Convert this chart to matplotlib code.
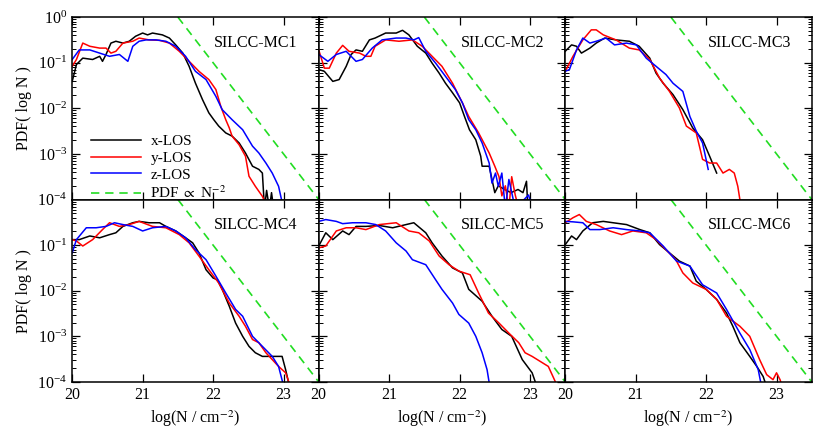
import numpy as np
import matplotlib
matplotlib.use("Agg")
import matplotlib.pyplot as plt
from matplotlib.ticker import LogLocator, NullFormatter, FixedLocator

plt.rcParams['font.family'] = 'serif'
plt.rcParams['font.serif'] = ['Liberation Serif', 'DejaVu Serif']
plt.rcParams['mathtext.fontset'] = 'stix'

# column density log10(N / cm^-2) and log10 PDF
# panel 1
mc1_x_lx = [20.0, 20.06, 20.15, 20.29, 20.39, 20.43, 20.48, 20.55, 20.62, 20.72, 20.81, 20.9, 21.0, 21.07,
            21.14, 21.28, 21.38, 21.47, 21.57, 21.66, 21.75, 21.85, 21.94, 22.01, 22.08, 22.18, 22.27,
            22.37, 22.46, 22.56, 22.65, 22.7, 22.73, 22.76, 22.8, 22.83, 22.86]
mc1_x_lp = [-1.41, -1.04, -0.9, -0.93, -0.86, -0.97, -0.82, -0.57, -0.53, -0.57, -0.53, -0.42, -0.35, -0.39,
            -0.35, -0.39, -0.46, -0.61, -0.79, -1.08, -1.45, -1.81, -2.1, -2.25, -2.39, -2.54, -2.61,
            -2.76, -2.98, -3.27, -3.34, -3.42, -4.2, -3.8, -4.2, -3.85, -4.2]
mc1_y_lx = [20.0, 20.06, 20.15, 20.25, 20.39, 20.48, 20.55, 20.62, 20.72, 20.86, 20.95, 21.09, 21.24,
            21.38, 21.52, 21.66, 21.8, 21.94, 22.04, 22.11, 22.18, 22.23, 22.27, 22.37, 22.46, 22.51,
            22.6, 22.7, 22.78]
mc1_y_lp = [-1.08, -0.93, -0.57, -0.64, -0.68, -0.68, -0.79, -0.75, -0.57, -0.53, -0.46, -0.5, -0.51,
            -0.57, -0.75, -0.97, -1.19, -1.37, -1.59, -1.96, -2.25, -2.43, -2.61, -2.8, -3.05, -3.49,
            -3.71, -3.93, -4.2]
mc1_z_lx = [20.0, 20.1, 20.25, 20.39, 20.53, 20.67, 20.79, 20.86, 20.95, 21.05, 21.19, 21.33, 21.47,
            21.61, 21.75, 21.9, 22.04, 22.13, 22.27, 22.42, 22.56, 22.65, 22.75, 22.84, 22.93, 23.0]
mc1_z_lp = [-0.93, -0.72, -0.72, -0.79, -0.86, -0.82, -0.97, -0.64, -0.53, -0.5, -0.5, -0.53, -0.64,
            -0.86, -1.19, -1.37, -1.74, -2.03, -2.25, -2.47, -2.83, -2.98, -3.2, -3.42, -3.71, -4.2]

# panel 2
mc2_x_lx = [20.0, 20.08, 20.2, 20.29, 20.39, 20.46, 20.53, 20.62, 20.72, 20.8, 20.95, 21.1, 21.19, 21.28,
            21.4, 21.52, 21.61, 21.71, 21.8, 21.9, 22.0, 22.07, 22.14, 22.23, 22.3, 22.32, 22.42, 22.5,
            22.55, 22.64, 22.73, 22.83, 22.9, 22.95, 22.97]
mc2_x_lp = [-1.15, -1.19, -1.41, -1.37, -1.08, -0.82, -0.72, -0.75, -0.5, -0.46, -0.35, -0.35, -0.29, -0.39,
            -0.64, -0.79, -1.01, -1.23, -1.45, -1.66, -1.88, -2.18, -2.47, -2.69, -3.05, -3.27, -3.27, -3.85,
            -3.7, -3.78, -3.85, -3.78, -3.85, -3.6, -4.2]
mc2_y_lx = [20.0, 20.08, 20.15, 20.25, 20.34, 20.43, 20.58, 20.67, 20.74, 20.8, 20.95, 21.14, 21.33,
            21.47, 21.61, 21.75, 21.9, 22.04, 22.13, 22.27, 22.42, 22.5, 22.56, 22.6, 22.65, 22.7, 22.74,
            22.79, 22.84]
mc2_y_lp = [-0.72, -1.12, -1.12, -0.79, -0.62, -0.75, -0.79, -0.86, -0.86, -0.64, -0.5, -0.53, -0.5,
            -0.64, -0.86, -1.08, -1.45, -1.88, -2.18, -2.54, -2.98, -3.27, -3.5, -3.92, -3.7, -4.2, -3.5,
            -3.9, -4.2]
mc2_z_lx = [20.0, 20.13, 20.25, 20.39, 20.53, 20.62, 20.76, 20.9, 21.1, 21.24, 21.35, 21.42, 21.52,
            21.66, 21.8, 21.94, 22.04, 22.13, 22.23, 22.32, 22.42, 22.46, 22.51, 22.55, 22.6, 22.65, 22.7,
            22.79, 22.98, 23.03]
mc2_z_lp = [-0.82, -0.97, -0.82, -0.75, -0.97, -0.93, -0.68, -0.5, -0.46, -0.46, -0.5, -0.45, -0.75,
            -1.01, -1.3, -1.59, -1.88, -2.25, -2.47, -2.76, -3.2, -3.64, -3.42, -3.71, -3.42, -4.2, -3.56,
            -4.2, -3.9, -4.2]

# panel 3
mc3_x_lx = [20.0, 20.09, 20.16, 20.23, 20.35, 20.44, 20.56, 20.72, 20.91, 21.05, 21.2, 21.29, 21.39,
            21.53, 21.67, 21.81, 21.95, 22.05, 22.15]
mc3_x_lp = [-0.75, -0.61, -0.64, -0.79, -0.68, -0.57, -0.46, -0.5, -0.53, -0.64, -0.9, -1.23, -1.45,
            -1.7, -2.03, -2.43, -2.69, -3.05, -3.42]
mc3_y_lx = [20.0, 20.11, 20.25, 20.37, 20.44, 20.54, 20.72, 20.91, 21.05, 21.2, 21.34, 21.48, 21.62,
            21.72, 21.86, 21.95, 22.05, 22.15, 22.24, 22.33, 22.4, 22.45, 22.5]
mc3_y_lp = [-1.19, -0.86, -0.5, -0.28, -0.28, -0.39, -0.5, -0.68, -0.72, -0.93, -1.34, -1.63, -1.99,
            -2.39, -2.54, -3.12, -3.2, -3.2, -3.42, -3.34, -3.42, -3.71, -4.2]
mc3_z_lx = [20.0, 20.06, 20.16, 20.25, 20.35, 20.44, 20.58, 20.7, 20.87, 21.01, 21.15, 21.29, 21.43,
            21.53, 21.67, 21.77, 21.86, 21.95, 22.03]
mc3_z_lp = [-1.19, -1.15, -0.72, -0.46, -0.57, -0.53, -0.46, -0.61, -0.57, -0.61, -0.9, -1.08, -1.26,
            -1.45, -1.63, -2.18, -2.5, -2.76, -3.34]

# panel 4
mc4_x_lx = [20.0, 20.1, 20.25, 20.39, 20.53, 20.62, 20.72, 20.86, 20.95, 21.09, 21.24, 21.33, 21.47,
            21.61, 21.71, 21.8, 21.9, 22.0, 22.06, 22.13, 22.23, 22.32, 22.42, 22.51, 22.6, 22.7, 22.84,
            22.98, 23.03, 23.1]
mc4_x_lp = [-0.88, -0.88, -0.8, -0.84, -0.77, -0.73, -0.59, -0.51, -0.48, -0.51, -0.51, -0.59, -0.69,
            -0.84, -0.95, -1.17, -1.54, -1.72, -1.76, -1.97, -2.34, -2.71, -3.0, -3.22, -3.36, -3.44, -3.44,
            -3.44, -3.73, -4.2]
mc4_y_lx = [20.0, 20.06, 20.15, 20.29, 20.43, 20.53, 20.67, 20.81, 20.95, 21.14, 21.33, 21.52, 21.66,
            21.8, 21.94, 22.08, 22.23, 22.37, 22.46, 22.56, 22.65, 22.75, 22.84, 22.93, 23.03, 23.12]
mc4_y_lp = [-0.88, -0.91, -1.02, -0.88, -0.66, -0.51, -0.59, -0.55, -0.48, -0.59, -0.62, -0.77, -0.95,
            -1.24, -1.54, -1.83, -2.27, -2.56, -2.78, -3.07, -3.14, -3.36, -3.51, -3.66, -3.8, -4.2]
mc4_z_lx = [20.0, 20.06, 20.2, 20.34, 20.48, 20.6, 20.72, 20.86, 21.0, 21.14, 21.33, 21.47, 21.61,
            21.75, 21.9, 22.04, 22.18, 22.32, 22.42, 22.56, 22.7, 22.84, 22.93, 23.02]
mc4_z_lp = [-1.17, -0.88, -0.62, -0.62, -0.59, -0.51, -0.55, -0.59, -0.69, -0.62, -0.59, -0.69, -0.84,
            -1.1, -1.32, -1.68, -2.05, -2.41, -2.56, -3.0, -3.22, -3.44, -3.66, -4.2]

# panel 5
mc5_x_lx = [20.0, 20.1, 20.2, 20.34, 20.43, 20.53, 20.67, 20.86, 21.05, 21.24, 21.35, 21.52, 21.61,
            21.75, 21.9, 22.04, 22.13, 22.32, 22.46, 22.6, 22.74, 22.89, 23.03, 23.12]
mc5_x_lp = [-1.02, -0.73, -0.88, -0.69, -0.77, -0.59, -0.59, -0.57, -0.62, -0.55, -0.51, -0.73, -0.95,
            -1.24, -1.5, -1.61, -1.97, -2.23, -2.56, -2.85, -3.0, -3.51, -3.8, -4.2]
mc5_y_lx = [20.0, 20.1, 20.25, 20.39, 20.53, 20.67, 20.86, 21.1, 21.28, 21.42, 21.57, 21.71, 21.85,
            21.99, 22.15, 22.27, 22.41, 22.56, 22.7, 22.84, 22.93, 23.03, 23.26, 23.42]
mc5_y_lp = [-1.06, -1.02, -0.69, -0.62, -0.62, -0.66, -0.55, -0.51, -0.69, -0.73, -0.91, -1.24, -1.43,
            -1.57, -1.65, -2.05, -2.49, -2.71, -2.93, -3.14, -3.36, -3.44, -3.66, -4.2]
mc5_z_lx = [20.0, 20.1, 20.25, 20.34, 20.48, 20.67, 20.81, 20.95, 21.1, 21.24, 21.33, 21.52, 21.66,
            21.75, 21.9, 21.99, 22.13, 22.23, 22.32, 22.39, 22.44]
mc5_z_lp = [-0.48, -0.44, -0.48, -0.53, -0.51, -0.51, -0.55, -0.69, -0.95, -1.13, -1.32, -1.43, -1.76,
            -1.97, -2.27, -2.52, -2.71, -3.0, -3.36, -3.73, -4.2]

# panel 6
mc6_x_lx = [20.0, 20.09, 20.16, 20.25, 20.39, 20.54, 20.68, 20.87, 21.06, 21.2, 21.34, 21.48, 21.62,
            21.77, 21.86, 22.0, 22.15, 22.29, 22.38, 22.48, 22.62, 22.72, 22.81, 22.88]
mc6_x_lp = [-0.99, -0.8, -0.88, -0.69, -0.51, -0.48, -0.51, -0.55, -0.66, -0.73, -0.99, -1.17, -1.35,
            -1.46, -1.79, -1.97, -2.19, -2.49, -2.78, -3.14, -3.44, -3.66, -3.88, -4.2]
mc6_y_lx = [20.0, 20.11, 20.2, 20.3, 20.44, 20.63, 20.8, 20.96, 21.15, 21.29, 21.43, 21.57, 21.67,
            21.81, 22.0, 22.15, 22.29, 22.48, 22.62, 22.76, 22.86, 22.95, 23.0, 23.05, 23.1]
mc6_y_lp = [-0.51, -0.4, -0.33, -0.48, -0.55, -0.69, -0.77, -0.69, -0.73, -0.88, -1.1, -1.32, -1.61,
            -1.83, -1.97, -2.19, -2.56, -2.78, -3.0, -3.51, -3.84, -3.95, -3.8, -3.95, -4.2]
mc6_z_lx = [20.0, 20.11, 20.25, 20.35, 20.49, 20.68, 20.87, 21.06, 21.2, 21.39, 21.58, 21.77, 21.95,
            22.15, 22.29, 22.48, 22.62, 22.74, 22.8]
mc6_z_lp = [-0.48, -0.49, -0.51, -0.66, -0.66, -0.62, -0.66, -0.69, -0.73, -1.02, -1.35, -1.46, -1.87,
            -2.05, -2.41, -2.93, -3.29, -3.73, -4.2]

# reference slope PDF ~ N^-2
ref_lx = [21.5, 23.5]
ref_pdf = [1.0, 1e-4]

panels = [
    ("SILCC-MC1", (mc1_x_lx, mc1_x_lp), (mc1_y_lx, mc1_y_lp), (mc1_z_lx, mc1_z_lp)),
    ("SILCC-MC2", (mc2_x_lx, mc2_x_lp), (mc2_y_lx, mc2_y_lp), (mc2_z_lx, mc2_z_lp)),
    ("SILCC-MC3", (mc3_x_lx, mc3_x_lp), (mc3_y_lx, mc3_y_lp), (mc3_z_lx, mc3_z_lp)),
    ("SILCC-MC4", (mc4_x_lx, mc4_x_lp), (mc4_y_lx, mc4_y_lp), (mc4_z_lx, mc4_z_lp)),
    ("SILCC-MC5", (mc5_x_lx, mc5_x_lp), (mc5_y_lx, mc5_y_lp), (mc5_z_lx, mc5_z_lp)),
    ("SILCC-MC6", (mc6_x_lx, mc6_x_lp), (mc6_y_lx, mc6_y_lp), (mc6_z_lx, mc6_z_lp)),
]

fig, axes = plt.subplots(2, 3, figsize=(8.3, 4.38), dpi=100)
fig.subplots_adjust(left=0.087, right=0.978, top=0.961, bottom=0.128, wspace=0, hspace=0)

for i, (name, xl, yl, zl) in enumerate(panels):
    ax = axes.flat[i]
    ax.plot(xl[0], 10**np.array(xl[1]), color='black', lw=1.1, label='x-LOS')
    ax.plot(yl[0], 10**np.array(yl[1]), color='#ff0000', lw=1.1, label='y-LOS')
    ax.plot(zl[0], 10**np.array(zl[1]), color='#0000ff', lw=1.1, label='z-LOS')
    ax.plot(ref_lx, ref_pdf, color='#22dd22', lw=1.2, ls=(0, (5, 3.5)), label=r'PDF $\propto$ N$^{-2}$')
    ax.set_yscale('log')
    ax.set_xlim(20, 23.5)
    # lower row: stop just short of 1 so the 10^0 label is not drawn twice
    ax.set_ylim(1e-4, 1 if i < 3 else 0.999)
    ax.xaxis.set_major_locator(FixedLocator([20, 21, 22, 23]))
    ax.yaxis.set_major_locator(LogLocator(base=10, numticks=10))
    ax.yaxis.set_minor_locator(LogLocator(base=10, subs=np.arange(2, 10), numticks=10))
    ax.yaxis.set_minor_formatter(NullFormatter())
    ax.tick_params(which='both', direction='in', top=True, right=True, labelsize=11.5)
    ax.tick_params(which='major', length=6, width=0.9)
    ax.tick_params(which='minor', length=3, width=0.7)
    for s in ax.spines.values():
        s.set_linewidth(1.1)
    ax.text(0.915, 0.86, name, transform=ax.transAxes, ha='right', va='center', fontsize=11.5)
    if i % 3 == 0:
        ax.set_ylabel('PDF( log N )', fontsize=11.5)
    else:
        ax.tick_params(labelleft=False)
    if i >= 3:
        ax.set_xlabel(r'log(N / cm$^{-2}$)', fontsize=11.5)
    else:
        ax.tick_params(labelbottom=False)

axes[0, 0].legend(loc='lower left', bbox_to_anchor=(0.02, -0.085), frameon=False, fontsize=11,
                  handlelength=3.3, labelspacing=0.2, handletextpad=0.6)

fig.savefig('out.png', dpi=100)
